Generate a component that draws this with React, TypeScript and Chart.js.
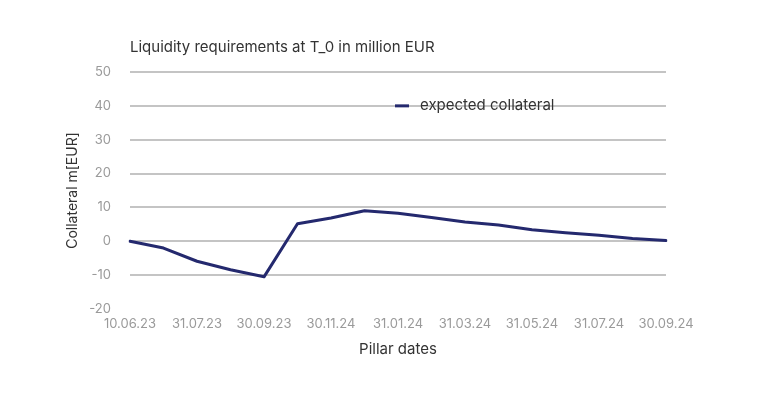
import React, { useEffect, useRef } from "react";
import { Chart, registerables } from "chart.js";

Chart.register(...registerables);

const TITLE = "Liquidity requirements at T_0 in million EUR";
const SERIES_LABEL = "expected collateral";
const TICK_LABELS = ["10.06.23", "31.07.23", "30.09.23", "30.11.24", "31.01.24", "31.03.24", "31.05.24", "31.07.24", "30.09.24"];
// 17 pillar points; every other one carries a tick label
const CATEGORIES = TICK_LABELS.flatMap((l, i) => (i < TICK_LABELS.length - 1 ? [l, ""] : [l]));
const COLLATERAL = [0, -2.0, -5.9, -8.4, -10.5, 5.2, 6.9, 9.0, 8.3, 7.0, 5.7, 4.8, 3.4, 2.5, 1.8, 0.8, 0.2];
const Y_MIN = -20;
const Y_MAX = 50;
const Y_STEP = 10;

const FONT = "Inter, 'Noto Sans', sans-serif";
const LINE_COLOR = "#24296e";

const overlayPlugin = {
  id: "overlay",
  afterDraw(chart: any) {
    const { ctx, chartArea } = chart;
    ctx.save();
    // title
    ctx.font = `15px ${FONT}`;
    ctx.fillStyle = "#333333";
    ctx.textAlign = "left";
    ctx.textBaseline = "middle";
    ctx.fillText(TITLE, chartArea.left, 47);
    // legend
    const ly = chart.scales.y.getPixelForValue(40);
    const lx = 395;
    ctx.strokeStyle = LINE_COLOR;
    ctx.lineWidth = 3;
    ctx.beginPath();
    ctx.moveTo(lx, ly);
    ctx.lineTo(lx + 14, ly);
    ctx.stroke();
    ctx.fillStyle = "#333333";
    ctx.fillText(SERIES_LABEL, lx + 25, ly);
    ctx.restore();
  },
};

export default function App() {
  const ref = useRef<HTMLCanvasElement>(null);
  useEffect(() => {
    if (!ref.current) return;
    const chart = new Chart(ref.current, {
      type: "line",
      data: {
        labels: CATEGORIES,
        datasets: [
          {
            label: SERIES_LABEL,
            data: COLLATERAL,
            borderColor: LINE_COLOR,
            backgroundColor: LINE_COLOR,
            borderWidth: 3,
            pointRadius: 0,
            tension: 0,
            borderJoinStyle: "round",
            borderCapStyle: "round",
          },
        ],
      },
      options: {
        animation: false,
        responsive: false,
        maintainAspectRatio: false,
        layout: { padding: { left: 0, top: 72, right: 102, bottom: 0 } },
        plugins: {
          legend: { display: false },
          title: { display: false },
          tooltip: { enabled: false },
        },
        scales: {
          x: {
            type: "category",
            offset: false,
            grid: { display: false, drawTicks: false },
            border: { display: false },
            ticks: {
              autoSkip: false,
              maxRotation: 0,
              padding: 7,
              color: "#9a9a9a",
              font: { family: FONT, size: 13 },
            },
            title: {
              display: true,
              text: "Pillar dates",
              color: "#333333",
              font: { family: FONT, size: 15 },
              padding: { top: 0, bottom: 41 },
            },
            afterFit: (s: any) => {
              s.height = 90;
            },
          },
          y: {
            min: Y_MIN,
            max: Y_MAX,
            grid: {
              drawTicks: false,
              lineWidth: 2,
              color: (c: any) => (c.tick && c.tick.value === Y_MIN ? "rgba(0,0,0,0)" : "#c4c4c4"),
            },
            border: { display: false },
            ticks: {
              stepSize: Y_STEP,
              padding: 19,
              color: "#9a9a9a",
              font: { family: FONT, size: 13 },
            },
            title: {
              display: true,
              text: "Collateral m[EUR]",
              color: "#333333",
              font: { family: FONT, size: 14 },
              padding: { top: 64.6, bottom: 0 },
            },
            afterFit: (s: any) => {
              s.width = 130;
            },
          },
        },
      },
      plugins: [overlayPlugin],
    });
    return () => chart.destroy();
  }, []);
  return (
    <div style={{ position: "fixed", left: 0, top: 0, width: 768, height: 399, background: "#fff" }}>
      <canvas ref={ref} width={768} height={399} style={{ width: 768, height: 399 }} />
    </div>
  );
}
